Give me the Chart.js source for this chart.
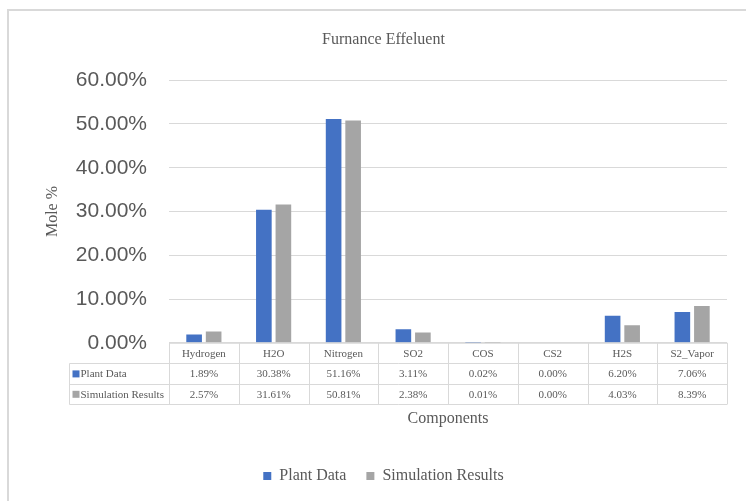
<!DOCTYPE html>
<html>
<head>
<meta charset="utf-8">
<script src="https://cdn.jsdelivr.net/npm/chart.js@4.4.1/dist/chart.umd.min.js"></script>
<style>
  html, body { margin: 0; padding: 0; background: #fff; }
  #wrap { width: 746px; height: 501px; }
</style>
</head>
<body>
<div id="wrap"><canvas id="barChart" width="746" height="501"></canvas></div>
<script>
var categories = ["Hydrogen", "H2O", "Nitrogen", "SO2", "COS", "CS2", "H2S", "S2_Vapor"];
var plantData = [1.89, 30.38, 51.16, 3.11, 0.02, 0.00, 6.20, 7.06];
var simulationResults = [2.57, 31.61, 50.81, 2.38, 0.01, 0.00, 4.03, 8.39];
var seriesNames = ["Plant Data", "Simulation Results"];
var seriesColors = ["#4472C4", "#A5A5A5"];

var textColor = '#595959';
var lineColor = '#D9D9D9';
var serif = '"Liberation Serif", "Times New Roman", serif';

function pct(v) {
  return v.toFixed(2) + '%';
}

// outer frame of the chart
var framePlugin = {
  id: 'frame',
  beforeDraw: function(chart) {
    var ctx = chart.ctx;
    ctx.save();
    ctx.fillStyle = '#fff';
    ctx.fillRect(0, 0, chart.width, chart.height);
    ctx.strokeStyle = lineColor;
    ctx.lineWidth = 2;
    ctx.strokeRect(8, 10, chart.width + 20, chart.height + 20);
    ctx.restore();
  }
};

// title and legend sit a bit right of the canvas centre in the original
var shiftPlugin = {
  id: 'shiftBoxes',
  afterLayout: function(chart) {
    [chart.titleBlock, chart.legend].forEach(function(box) {
      if (!box) return;
      box.left += 20;
      box.right += 20;
    });
  }
};

// data table under the x axis
var tablePlugin = {
  id: 'dataTable',
  afterDraw: function(chart) {
    var ctx = chart.ctx;
    var area = chart.chartArea;
    var x = chart.scales.x;
    var colW = (area.right - area.left) / categories.length;
    var top = area.bottom;
    var rowH = 20.4;
    var labelLeft = 69.5;
    var rows = [plantData, simulationResults];

    ctx.save();
    ctx.strokeStyle = lineColor;
    ctx.lineWidth = 1;

    // horizontal lines
    ctx.beginPath();
    ctx.moveTo(area.left, top + 0.5);
    ctx.lineTo(area.right, top + 0.5);
    for (let r = 1; r <= 3; r++) {
      var yy = Math.round(top + r * rowH) + 0.5;
      ctx.moveTo(labelLeft, yy);
      ctx.lineTo(area.right, yy);
    }
    // vertical lines
    ctx.moveTo(labelLeft, Math.round(top + rowH) + 0.5);
    ctx.lineTo(labelLeft, Math.round(top + 3 * rowH) + 0.5);
    for (let i = 0; i <= categories.length; i++) {
      var xx = Math.round(area.left + i * colW) + 0.5;
      ctx.moveTo(xx, top);
      ctx.lineTo(xx, Math.round(top + 3 * rowH) + 0.5);
    }
    ctx.stroke();

    ctx.fillStyle = textColor;
    ctx.font = '11px ' + serif;
    ctx.textAlign = 'center';
    ctx.textBaseline = 'middle';
    categories.forEach(function(c, i) {
      var cx = x.getPixelForValue(i);
      ctx.fillText(c, cx, top + rowH / 2 + 1);
      rows.forEach(function(arr, r) {
        ctx.fillText(pct(arr[i]), cx, top + rowH * (r + 1.5) + 1);
      });
    });

    ctx.textAlign = 'left';
    seriesNames.forEach(function(name, r) {
      var cy = top + rowH * (r + 1.5);
      ctx.fillStyle = seriesColors[r];
      ctx.fillRect(labelLeft + 3, cy - 3, 7, 7);
      ctx.fillStyle = textColor;
      ctx.fillText(name, labelLeft + 11, cy + 1);
    });
    ctx.restore();
  }
};

var ctxB = document.getElementById('barChart').getContext('2d');
var myBarChart = new Chart(ctxB, {
  type: 'bar',
  data: {
    labels: categories,
    datasets: [{
      label: seriesNames[0],
      data: plantData,
      backgroundColor: seriesColors[0],
      borderWidth: 0,
      categoryPercentage: 0.56,
      barPercentage: 0.8
    },
    {
      label: seriesNames[1],
      data: simulationResults,
      backgroundColor: seriesColors[1],
      borderWidth: 0,
      categoryPercentage: 0.56,
      barPercentage: 0.8
    }]
  },
  options: {
    responsive: false,
    animation: false,
    layout: {
      padding: { left: 0, right: 19, top: 0, bottom: 7 }
    },
    plugins: {
      title: {
        display: true,
        text: 'Furnance Effeluent',
        color: textColor,
        font: { family: serif, size: 16, weight: 'normal' },
        padding: { top: 30, bottom: 31 }
      },
      legend: {
        position: 'bottom',
        labels: {
          color: textColor,
          font: { family: serif, size: 16 },
          boxWidth: 8,
          boxHeight: 8,
          padding: 20
        }
      },
      tooltip: { enabled: false }
    },
    scales: {
      x: {
        ticks: { display: false },
        grid: { display: false, drawTicks: false },
        border: { display: false },
        title: {
          display: true,
          text: 'Components',
          color: textColor,
          font: { family: serif, size: 16 },
          padding: { top: 66, bottom: 20 }
        }
      },
      y: {
        min: 0,
        max: 60,
        ticks: {
          stepSize: 10,
          color: textColor,
          padding: 22,
          font: { family: '"Liberation Sans", Arial, sans-serif', size: 21 },
          callback: function(v) { return pct(v); }
        },
        grid: { color: lineColor, lineWidth: 1, drawTicks: false },
        border: { display: false },
        title: {
          display: true,
          text: 'Mole %',
          color: textColor,
          font: { family: serif, size: 16 },
          padding: { top: 43, bottom: 0 }
        },
        afterFit: function(scale) {
          scale.width = 169;
        }
      }
    }
  },
  plugins: [framePlugin, shiftPlugin, tablePlugin]
});
</script>
</body>
</html>
